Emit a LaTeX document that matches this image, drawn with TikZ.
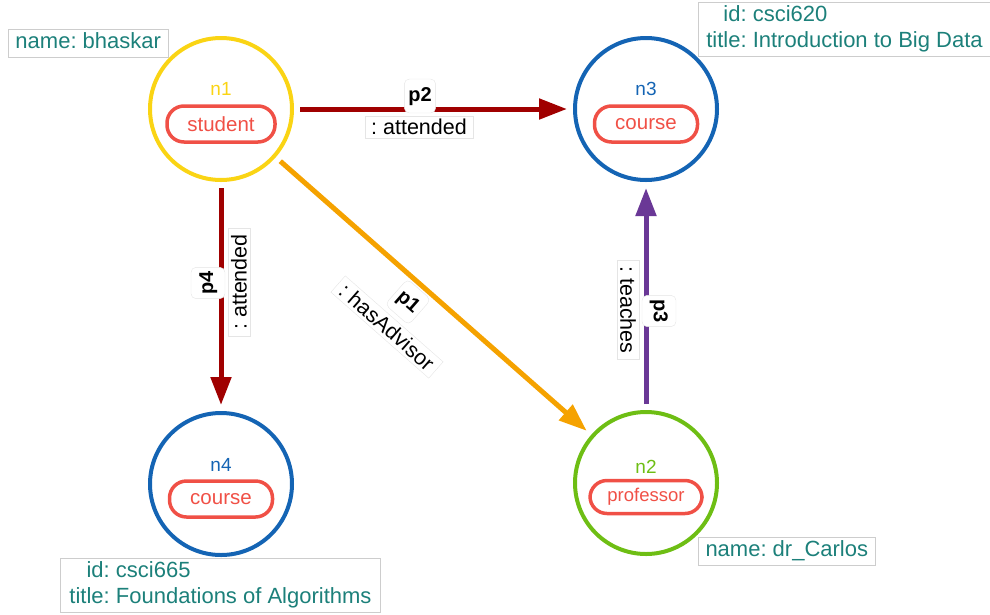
\documentclass[tikz,border=0pt]{standalone}
\usepackage{fontspec}
\setmainfont{Liberation Sans}
\usetikzlibrary{arrows.meta}
\definecolor{edgered}{RGB}{160,0,0}
\definecolor{edgeorange}{RGB}{245,162,0}
\definecolor{edgepurple}{RGB}{106,56,150}
\definecolor{nyellow}{RGB}{250,212,20}
\definecolor{nblue}{RGB}{20,100,180}
\definecolor{ngreen}{RGB}{110,190,20}
\definecolor{pillred}{RGB}{240,80,70}
\definecolor{propteal}{RGB}{28,128,122}
\definecolor{propgray}{RGB}{205,205,205}
\frenchspacing
\begin{document}
\begin{tikzpicture}[x=1pt,y=-1pt,
  gnode/.style={circle,minimum size=142pt,inner sep=0pt,line width=4pt,draw=#1},
  nlbl/.style={text=#1,font=\fontsize{19}{22}\selectfont,inner sep=0pt},
  typepill/.style={draw=pillred,line width=3.5pt,rounded corners=17pt,minimum height=36pt,
    text=pillred,font=\fontsize{20.5}{24}\selectfont,inner sep=0pt},
  prop/.style={draw=propgray,line width=1pt,text=propteal,font=\fontsize{22}{26}\selectfont,
    inner xsep=7pt,inner ysep=1pt},
  rel/.style={line width=5pt,-{Triangle[length=28pt,width=20pt]},shorten <=6pt,shorten >=6pt},
  plbl/.style={fill=white,draw=gray!20,rounded corners=5pt,
    font=\fontsize{20}{26}\selectfont\bfseries,inner sep=4pt},
  tlbl/.style={fill=white,draw=gray!20,font=\fontsize{21.5}{24}\selectfont,inner xsep=6pt,inner ysep=3pt}]
\useasboundingbox (0,0) rectangle (990,614);

% graph nodes
\node[gnode=nyellow] (n1) at (221,109) {};
\node[gnode=nblue]   (n3) at (646,109) {};
\node[gnode=nblue]   (n4) at (221,484) {};
\node[gnode=ngreen]  (n2) at (646,483) {};

% inner labels
\node[nlbl=nyellow] (n1id) at (221,89) {n1};
\node[typepill,minimum width=108pt] (n1type) at (221,124) {student};
\node[nlbl=nblue] (n3id) at (646,89) {n3};
\node[typepill,minimum width=103pt] (n3type) at (646,124) {course};
\node[nlbl=nblue] (n4id) at (221,465) {n4};
\node[typepill,minimum width=103pt] (n4type) at (221,499) {course};
\node[nlbl=ngreen] (n2id) at (646,467) {n2};
\node[typepill,minimum width=112pt,minimum height=33pt,font=\fontsize{18.5}{22}\selectfont] (n2type) at (646,497) {professor};

% relationships
\draw[rel,draw=edgered,fill=edgered] (n1) -- (n3);
\draw[rel,draw=edgered,fill=edgered] (n1) -- (n4);
\draw[rel,draw=edgepurple,fill=edgepurple] (n2) -- (n3);
\draw[rel,draw=edgeorange,fill=edgeorange] (n1) -- (n2);

% relationship labels
\node[plbl] (p2) at (420,96) {\strut p2};
\node[tlbl] (p2t) at (419,127) {: attended};
\node[plbl,rotate=90] (p4) at (208,283) {\strut p4};
\node[tlbl,rotate=90] (p4t) at (239,282) {: attended};
\node[plbl,rotate=-90] (p3) at (659,311) {\strut p3};
\node[tlbl,rotate=-90] (p3t) at (628,310) {: teaches};
\node[plbl,rotate=-41.3] (p1) at (408,302) {\strut p1};
\node[tlbl,rotate=-41.3] (p1t) at (387,327) {: hasAdvisor};

% properties
\node[prop,anchor=north west,minimum height=27pt] (n1prop) at (8,29) {\strut name: bhaskar};
\node[prop,anchor=south west,minimum width=292pt,align=left] (n3prop) at (698,57)
  {\begin{tabular}{@{}r@{ }l@{}}id:&csci620\\title:&Introduction to Big Data\end{tabular}};
\node[prop,anchor=north west,minimum width=320pt] (n4prop) at (60,558)
  {\begin{tabular}{@{}r@{ }l@{}}id:&csci665\\title:&Foundations of Algorithms\end{tabular}};
\node[prop,anchor=north west,minimum height=26pt] (n2prop) at (698,537) {\strut name: dr\_Carlos};
\end{tikzpicture}
\end{document}
